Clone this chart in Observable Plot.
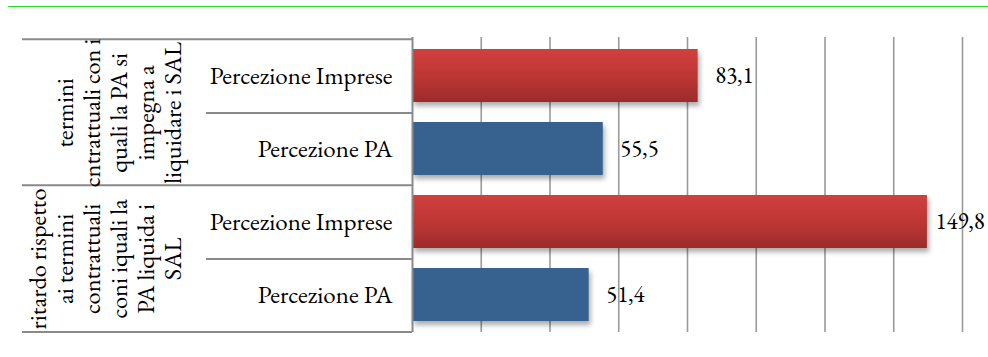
<!DOCTYPE html>
<html><head><meta charset="utf-8">
<script src="https://cdn.jsdelivr.net/npm/d3@7"></script>
<script src="https://cdn.jsdelivr.net/npm/@observablehq/plot@0.6"></script>
<style>
body{margin:0;background:#fff;}
#wrap{position:relative;width:988px;height:357px;overflow:hidden;}
#topline{position:absolute;left:8px;top:6px;width:980px;height:1px;background:#26e026;}
#chart svg g[aria-label="bar"]{filter:drop-shadow(2px 4px 2.5px rgba(0,0,0,0.32));}
#chart svg g[aria-label="table"]{filter:drop-shadow(1px 1.5px 1px rgba(0,0,0,0.25));}
</style></head><body>
<div id="wrap"><div id="chart"></div><div id="topline"></div></div>
<script>
// ---- data ----
const groups = [
  "termini\ncntrattuali con i\nquali la PA si\nimpegna a\nliquidare i SAL",
  "ritardo rispetto\nai termini\ncontrattuali\nconi iquali la\nPA liquida i\nSAL"
];
const series = ["Percezione Imprese", "Percezione PA"];
const impreseValues = [83.1, 149.8];
const paValues = [55.5, 51.4];
const xTicks = [0, 20, 40, 60, 80, 100, 120, 140, 160];

// ---- table built from the arrays ----
const rows = [];
groups.forEach((g, i) => {
  rows.push({gi: i, group: g, series: series[0], key: i + "|" + series[0], value: impreseValues[i]});
  rows.push({gi: i, group: g, series: series[1], key: i + "|" + series[1], value: paValues[i]});
});
const keys = rows.map(d => d.key);
const firstKeys = groups.map((g, i) => i + "|" + series[0]);
const groupRows = groups.map((g, i) => ({group: g, key: firstKeys[i]}));

const W = 988, H = 357, mL = 412, mR = 26, mT = 37, mB = 25;
const step = (H - mT - mB) / keys.length;
const fmt = v => v.toFixed(1).replace(".", ",");
const FONT = "EB Garamond";

const defs = () => {
  const d = d3.create("svg:defs");
  const g = d.append("linearGradient").attr("id", "gradRed")
    .attr("x1", 0).attr("y1", 0).attr("x2", 0).attr("y2", 1);
  g.append("stop").attr("offset", "0%").attr("stop-color", "#d1403d");
  g.append("stop").attr("offset", "55%").attr("stop-color", "#bb3634");
  g.append("stop").attr("offset", "100%").attr("stop-color", "#9c2b2b");
  return d.node();
};

const plot = Plot.plot({
  width: W, height: H,
  marginLeft: mL, marginRight: mR, marginTop: mT, marginBottom: mB,
  x: {domain: [0, 160], axis: null},
  y: {domain: keys, padding: 0, axis: null},
  style: `font-family: '${FONT}'; font-size: 23px; color: black; background: white; overflow: visible;`,
  marks: [
    defs,
    Plot.ruleX(xTicks.filter(t => t > 0), {stroke: "#9a9a9a", strokeWidth: 1.6}),
    Plot.barX(rows.filter(d => d.series === series[0]), {x: "value", y: "key", fill: "url(#gradRed)", insetTop: 10, insetBottom: 10}),
    Plot.barX(rows.filter(d => d.series === series[1]), {x: "value", y: "key", fill: "#37618f", insetTop: 10, insetBottom: 10}),
    // table borders
    Plot.ruleX([0], {stroke: "#8a8a8a", strokeWidth: 2, ariaLabel: "table"}),
    Plot.ruleY([keys[0], keys[2]], {x1: 0, x2: 0, insetLeft: -390, dy: -step / 2, stroke: "#8a8a8a", strokeWidth: 2, ariaLabel: "table"}),
    Plot.ruleY([keys[3]], {x1: 0, x2: 0, insetLeft: -390, dy: step / 2, stroke: "#8a8a8a", strokeWidth: 2, ariaLabel: "table"}),
    Plot.ruleY([keys[0], keys[2]], {x1: 0, x2: 0, insetLeft: -206, dy: step / 2, stroke: "#8a8a8a", strokeWidth: 2, ariaLabel: "table"}),
    // series labels
    Plot.text(rows, {y: "key", text: "series", frameAnchor: "left", textAnchor: "end", dx: -20, fontSize: 25, fill: "black", ariaLabel: "serieslabels"}),
    // group labels (rotated)
    Plot.text(groupRows, {y: "key", text: "group", frameAnchor: "left", dx: -232, dy: step / 2, rotate: -90, textAnchor: "middle", lineAnchor: "bottom", fontSize: 24.5, lineHeight: 1.1, fill: "black", ariaLabel: "grouplabels"}),
    // value labels
    Plot.text(rows.filter(d => d.value <= 140), {x: "value", y: "key", text: d => fmt(d.value), textAnchor: "start", dx: 17, fill: "black", ariaLabel: "values"}),
    Plot.text(rows.filter(d => d.value > 140), {x: "value", y: "key", text: d => fmt(d.value), textAnchor: "start", dx: 8, fill: "black", ariaLabel: "values"})
  ]
});
d3.select(plot).selectAll("text")
  .attr("font-family", FONT)
  .style("font-family", `'${FONT}'`)
  .style("font-variant-numeric", "lining-nums");
document.getElementById("chart").appendChild(plot);
</script>
</body></html>
